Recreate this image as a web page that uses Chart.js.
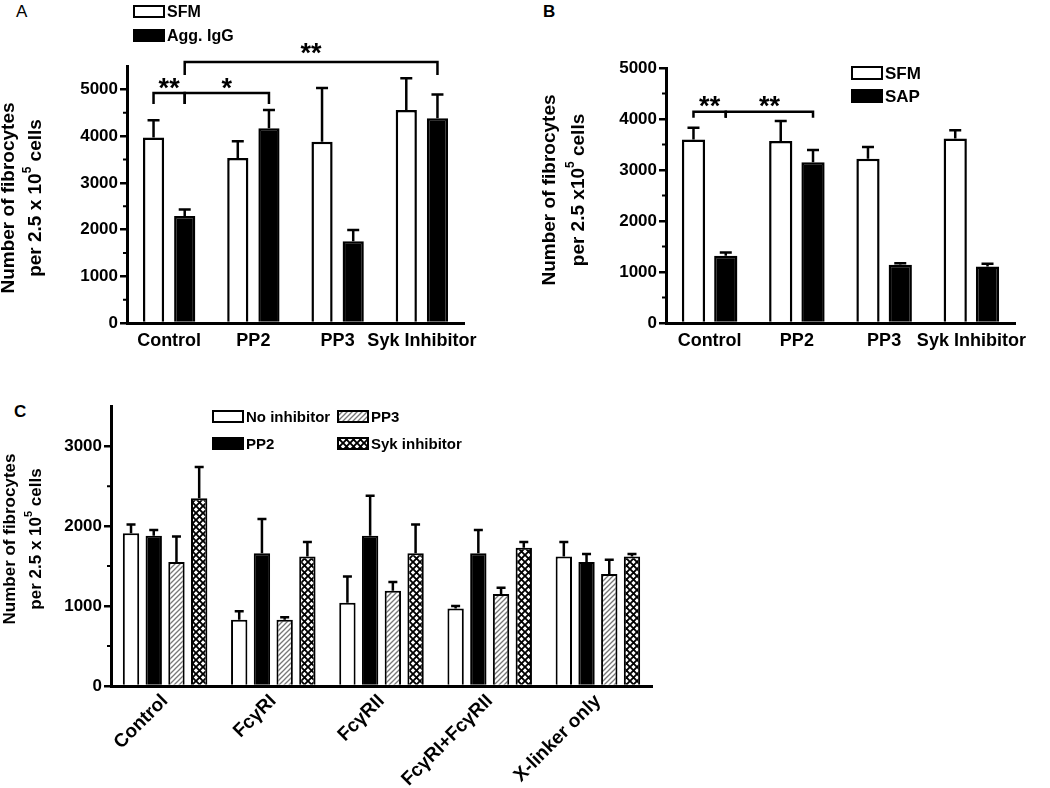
<!DOCTYPE html>
<html>
<head>
<meta charset="utf-8">
<script src="https://cdn.jsdelivr.net/npm/chart.js@4.4.1/dist/chart.umd.min.js"></script>
<style>
    html, body { margin: 0; padding: 0; background: #fff; }
    #figure { position: relative; width: 1050px; height: 788px; overflow: hidden; }
    #figure canvas { position: absolute; }
    .panel-tag { position: absolute; font: bold 17px 'Liberation Sans', Arial, sans-serif; line-height: 1; color: #000; }
</style>
</head>
<body>
<div id="figure">
    <div class="panel-tag" style="left:16px; top:3px; font-weight:normal;">A</div>
    <div class="panel-tag" style="left:543px; top:3px;">B</div>
    <div class="panel-tag" style="left:14px; top:403px;">C</div>
    <canvas id="chartA" width="525" height="394" style="left:0; top:0;"></canvas>
    <canvas id="chartB" width="525" height="394" style="left:525px; top:0;"></canvas>
    <canvas id="chartC" width="700" height="394" style="left:0; top:394px;"></canvas>
</div>
<script>
(() => {
    'use strict';

    // panel A: aggregated IgG
    const categoriesA = ['Control', 'PP2', 'PP3', 'Syk Inhibitor'];
    const sfmA = [3970, 3530, 3880, 4560];
    const sfmErrA = [370, 360, 1150, 680];
    const aggIggA = [2290, 4170, 1750, 4380];
    const aggIggErrA = [140, 390, 240, 510];
    const ticksA = [0, 1000, 2000, 3000, 4000, 5000];
    const minorTicksA = [500, 1500, 2500, 3500, 4500];

    // panel B: SAP
    const categoriesB = ['Control', 'PP2', 'PP3', 'Syk Inhibitor'];
    const sfmB = [3600, 3570, 3220, 3620];
    const sfmErrB = [230, 390, 230, 160];
    const sapB = [1320, 3150, 1140, 1110];
    const sapErrB = [60, 240, 30, 50];
    const ticksB = [0, 1000, 2000, 3000, 4000, 5000];
    const minorTicksB = [500, 1500, 2500, 3500, 4500];

    // panel C: Fc receptor cross-linking
    const categoriesC = ['Control', 'FcγRI', 'FcγRII', 'FcγRI+FcγRII', 'X-linker only'];
    const noInhibitorC = [1910, 830, 1040, 970, 1620];
    const noInhibitorErrC = [110, 105, 330, 30, 180];
    const pp2C = [1880, 1660, 1880, 1660, 1550];
    const pp2ErrC = [70, 430, 500, 290, 100];
    const pp3C = [1550, 830, 1190, 1150, 1400];
    const pp3ErrC = [320, 30, 110, 80, 180];
    const sykC = [2350, 1620, 1660, 1730, 1620];
    const sykErrC = [390, 180, 360, 70, 30];
    const ticksC = [0, 1000, 2000, 3000];
    const minorTicksC = [500, 1500, 2500];

    const FONT = "'Liberation Sans', Arial, Helvetica, sans-serif";

    Chart.defaults.font.family = FONT;
    Chart.defaults.color = '#000';
    Chart.defaults.animation = false;

    const hatchPattern = () => {
        const size = 5;
        const c = document.createElement('canvas');
        c.width = size;
        c.height = size;
        const g = c.getContext('2d');
        g.fillStyle = '#fff';
        g.fillRect(0, 0, size, size);
        g.strokeStyle = '#777';
        g.lineWidth = 1.3;
        g.beginPath();
        g.moveTo(-1, size + 1);
        g.lineTo(size + 1, -1);
        g.moveTo(-1, 1);
        g.lineTo(1, -1);
        g.moveTo(size - 1, size + 1);
        g.lineTo(size + 1, size - 1);
        g.stroke();
        return g.createPattern(c, 'repeat');
    };

    const crossPattern = () => {
        const size = 7;
        const c = document.createElement('canvas');
        c.width = size;
        c.height = size;
        const g = c.getContext('2d');
        g.fillStyle = '#fff';
        g.fillRect(0, 0, size, size);
        g.strokeStyle = '#000';
        g.lineWidth = 1.9;
        g.beginPath();
        g.moveTo(0, 0);
        g.lineTo(size, size);
        g.moveTo(0, size);
        g.lineTo(size, 0);
        g.stroke();
        return g.createPattern(c, 'repeat');
    };

    const errorBars = {
        id: 'errorBars',
        afterDatasetsDraw(chart, args, opts) {
            const { ctx } = chart;
            const yScale = chart.scales.y;
            chart.data.datasets.forEach((dataset, di) => {
                chart.getDatasetMeta(di).data.forEach((bar, i) => {
                    const top = yScale.getPixelForValue(dataset.data[i] + dataset.errors[i]);
                    ctx.save();
                    ctx.strokeStyle = '#000';
                    ctx.lineWidth = opts.width;
                    ctx.beginPath();
                    ctx.moveTo(bar.x, bar.y);
                    ctx.lineTo(bar.x, top);
                    ctx.moveTo(bar.x - opts.cap / 2, top);
                    ctx.lineTo(bar.x + opts.cap / 2, top);
                    ctx.stroke();
                    ctx.restore();
                });
            });
        },
    };

    const brackets = {
        id: 'brackets',
        afterDatasetsDraw(chart, args, opts) {
            const { ctx } = chart;
            (opts.items || []).forEach((item) => {
                const from = chart.getDatasetMeta(item.from[0]).data[item.from[1]];
                const to = chart.getDatasetMeta(item.to[0]).data[item.to[1]];
                const y = chart.scales.y.getPixelForValue(item.level);
                ctx.save();
                ctx.strokeStyle = '#000';
                ctx.lineWidth = 2.5;
                ctx.beginPath();
                ctx.moveTo(from.x, y + item.drop);
                ctx.lineTo(from.x, y);
                ctx.lineTo(to.x, y);
                ctx.lineTo(to.x, y + item.drop);
                ctx.stroke();
                ctx.fillStyle = '#000';
                ctx.font = `bold 27px ${FONT}`;
                ctx.textAlign = 'center';
                ctx.textBaseline = 'alphabetic';
                ctx.fillText(item.label, (from.x + to.x) / 2, y + item.textGap);
                ctx.restore();
            });
        },
    };

    const minorTicks = {
        id: 'minorTicks',
        afterDraw(chart, args, opts) {
            const { ctx } = chart;
            const yScale = chart.scales.y;
            ctx.save();
            ctx.strokeStyle = '#000';
            ctx.lineWidth = 2;
            ctx.beginPath();
            opts.values.forEach((v) => {
                const y = yScale.getPixelForValue(v);
                ctx.moveTo(yScale.right - opts.length, y);
                ctx.lineTo(yScale.right, y);
            });
            ctx.stroke();
            ctx.restore();
        },
    };

    const boxLegend = {
        id: 'boxLegend',
        afterDraw(chart, args, opts) {
            const { ctx } = chart;
            opts.items.forEach((item) => {
                const dataset = chart.data.datasets[item.dataset];
                ctx.save();
                ctx.fillStyle = dataset.backgroundColor;
                ctx.fillRect(item.x, item.y, opts.boxWidth, opts.boxHeight);
                ctx.strokeStyle = '#000';
                ctx.lineWidth = 2;
                ctx.strokeRect(item.x, item.y, opts.boxWidth, opts.boxHeight);
                ctx.fillStyle = '#000';
                ctx.font = `bold ${opts.fontSize}px ${FONT}`;
                ctx.textBaseline = 'middle';
                ctx.fillText(dataset.label, item.x + opts.boxWidth + 3, item.y + opts.boxHeight / 2 + 1);
                ctx.restore();
            });
        },
    };

    // two-line rotated y title with a superscript exponent
    const yTitle = {
        id: 'yTitle',
        afterDraw(chart, args, opts) {
            const { ctx } = chart;
            const mainFont = `bold ${opts.size}px ${FONT}`;
            const supFont = `bold ${Math.round(opts.size * 0.62)}px ${FONT}`;
            opts.lines.forEach((parts, i) => {
                ctx.save();
                ctx.translate(opts.x[i], opts.cy);
                ctx.rotate(-Math.PI / 2);
                ctx.fillStyle = '#000';
                ctx.textBaseline = 'middle';
                let total = 0;
                parts.forEach((p) => {
                    ctx.font = p.sup ? supFont : mainFont;
                    total += ctx.measureText(p.text).width;
                });
                let x = -total / 2;
                parts.forEach((p) => {
                    ctx.font = p.sup ? supFont : mainFont;
                    ctx.fillText(p.text, x, p.sup ? -opts.size * 0.42 : 0);
                    x += ctx.measureText(p.text).width;
                });
                ctx.restore();
            });
        },
    };

    const yAxis = (max, tickValues, width, size) => ({
        min: 0,
        max,
        afterBuildTicks: (axis) => {
            axis.ticks = tickValues.map((value) => ({ value }));
        },
        afterFit: (axis) => {
            axis.width = width;
        },
        border: { display: true, color: '#000', width: 3 },
        grid: { display: true, drawOnChartArea: false, drawTicks: true, tickLength: 7, lineWidth: 2.5, color: '#000' },
        ticks: {
            color: '#000',
            font: { size, weight: 'bold' },
            padding: 2,
            callback: (value) => String(value),
        },
    });

    const xAxis = (height, size, rotation, padding) => ({
        afterFit: (axis) => {
            axis.height = height;
        },
        border: { display: true, color: '#000', width: 3 },
        grid: { display: false, drawTicks: false },
        ticks: {
            color: '#000',
            font: { size, weight: 'bold' },
            padding,
            autoSkip: false,
            maxRotation: rotation,
            minRotation: rotation,
        },
    });

    const barDataset = (label, data, errors, fill, borderWidth) => ({
        label,
        data,
        errors,
        backgroundColor: fill,
        borderColor: '#000',
        borderWidth,
    });

    new Chart(document.getElementById('chartA'), {
        type: 'bar',
        data: {
            labels: categoriesA,
            datasets: [
                barDataset('SFM', sfmA, sfmErrA, '#fff', 2.5),
                barDataset('Agg. IgG', aggIggA, aggIggErrA, '#000', 2.5),
            ],
        },
        plugins: [errorBars, brackets, minorTicks, boxLegend, yTitle],
        options: {
            responsive: false,
            devicePixelRatio: 1,
            layout: { padding: { left: 0, top: 66, right: 61, bottom: 31 } },
            datasets: { bar: { categoryPercentage: 0.74, barPercentage: 0.68 } },
            scales: {
                x: xAxis(40, 18, 0, 7),
                y: yAxis(5500, ticksA, 127, 17),
            },
            plugins: {
                legend: { display: false },
                tooltip: { enabled: false },
                errorBars: { width: 2.5, cap: 12 },
                minorTicks: { values: minorTicksA, length: 4 },
                brackets: {
                    items: [
                        { from: [0, 0], to: [1, 0], level: 4920, drop: 11, textGap: 4, label: '**' },
                        { from: [1, 0], to: [1, 1], level: 4920, drop: 11, textGap: 4, label: '*' },
                        { from: [1, 0], to: [1, 3], level: 5585, drop: 13, textGap: 0, label: '**' },
                    ],
                },
                boxLegend: {
                    boxWidth: 30,
                    boxHeight: 11,
                    fontSize: 16,
                    items: [
                        { dataset: 0, x: 134, y: 6 },
                        { dataset: 1, x: 134, y: 30 },
                    ],
                },
                yTitle: {
                    size: 19,
                    x: [9, 36],
                    cy: 198,
                    lines: [
                        [{ text: 'Number of fibrocytes' }],
                        [{ text: 'per 2.5 x 10' }, { text: '5', sup: true }, { text: ' cells' }],
                    ],
                },
            },
        },
    });

    new Chart(document.getElementById('chartB'), {
        type: 'bar',
        data: {
            labels: categoriesB,
            datasets: [
                barDataset('SFM', sfmB, sfmErrB, '#fff', 2.5),
                barDataset('SAP', sapB, sapErrB, '#000', 2.5),
            ],
        },
        plugins: [errorBars, brackets, minorTicks, boxLegend, yTitle],
        options: {
            responsive: false,
            devicePixelRatio: 1,
            layout: { padding: { left: 0, top: 68, right: 35, bottom: 31 } },
            datasets: { bar: { categoryPercentage: 0.74, barPercentage: 0.72 } },
            scales: {
                x: xAxis(40, 18, 0, 7),
                y: yAxis(5000, ticksB, 141, 17),
            },
            plugins: {
                legend: { display: false },
                tooltip: { enabled: false },
                errorBars: { width: 2.5, cap: 12 },
                minorTicks: { values: minorTicksB, length: 4 },
                brackets: {
                    items: [
                        { from: [0, 0], to: [1, 0], level: 4140, drop: 6, textGap: 3, label: '**' },
                        { from: [1, 0], to: [1, 1], level: 4140, drop: 6, textGap: 3, label: '**' },
                    ],
                },
                boxLegend: {
                    boxWidth: 30,
                    boxHeight: 12,
                    fontSize: 17,
                    items: [
                        { dataset: 0, x: 327, y: 67 },
                        { dataset: 1, x: 327, y: 90 },
                    ],
                },
                yTitle: {
                    size: 19,
                    x: [25, 54],
                    cy: 190,
                    lines: [
                        [{ text: 'Number of fibrocytes' }],
                        [{ text: 'per 2.5 x10' }, { text: '5', sup: true }, { text: ' cells' }],
                    ],
                },
            },
        },
    });

    new Chart(document.getElementById('chartC'), {
        type: 'bar',
        data: {
            labels: categoriesC,
            datasets: [
                barDataset('No inhibitor', noInhibitorC, noInhibitorErrC, '#fff', 2),
                barDataset('PP2', pp2C, pp2ErrC, '#000', 2),
                barDataset('PP3', pp3C, pp3ErrC, hatchPattern(), 2),
                barDataset('Syk inhibitor', sykC, sykErrC, crossPattern(), 2),
            ],
        },
        plugins: [errorBars, minorTicks, boxLegend, yTitle],
        options: {
            responsive: false,
            devicePixelRatio: 1,
            layout: { padding: { left: 0, top: 11, right: 48, bottom: 2 } },
            datasets: { bar: { categoryPercentage: 0.84, barPercentage: 0.72 } },
            scales: {
                x: xAxis(100, 19, 45, 4),
                y: yAxis(3500, ticksC, 111, 17),
            },
            plugins: {
                legend: { display: false },
                tooltip: { enabled: false },
                errorBars: { width: 2.5, cap: 9 },
                minorTicks: { values: minorTicksC, length: 4 },
                boxLegend: {
                    boxWidth: 30,
                    boxHeight: 11,
                    fontSize: 15,
                    items: [
                        { dataset: 0, x: 213, y: 17 },
                        { dataset: 2, x: 338, y: 17 },
                        { dataset: 1, x: 213, y: 44 },
                        { dataset: 3, x: 338, y: 44 },
                    ],
                },
                yTitle: {
                    size: 17,
                    x: [10, 36],
                    cy: 145,
                    lines: [
                        [{ text: 'Number of fibrocytes' }],
                        [{ text: 'per 2.5 x 10' }, { text: '5', sup: true }, { text: ' cells' }],
                    ],
                },
            },
        },
    });
})();
</script>
</body>
</html>
